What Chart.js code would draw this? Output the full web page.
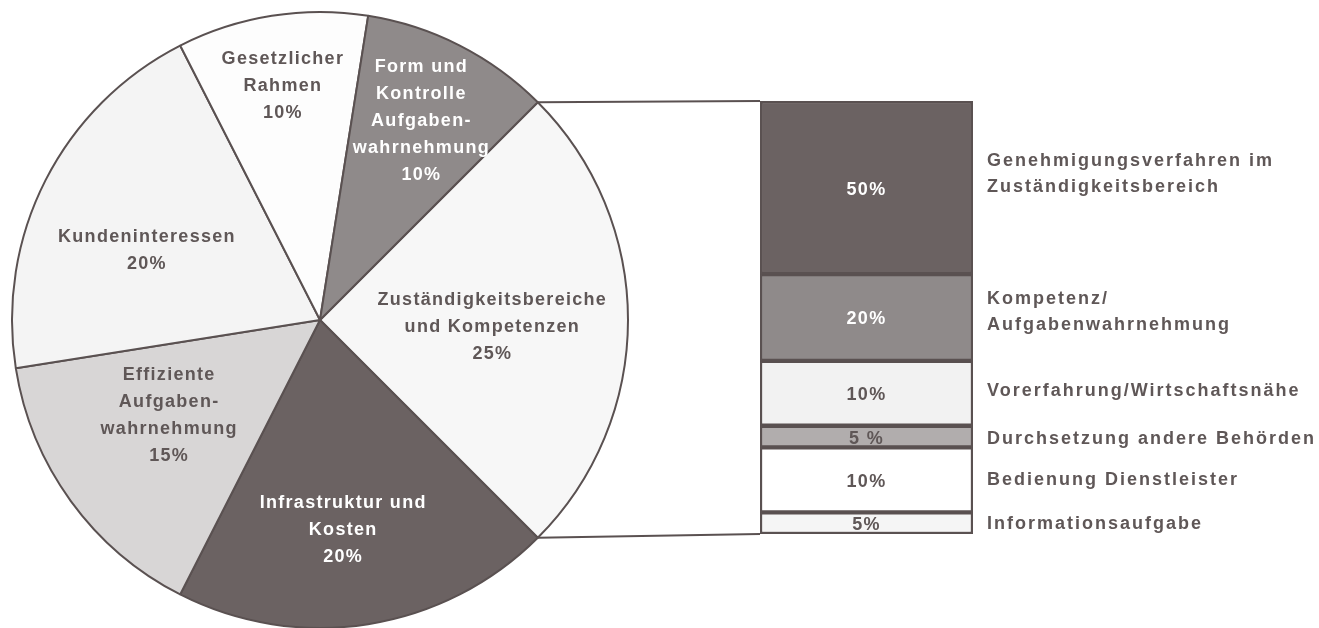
<!DOCTYPE html>
<html>
<head>
<meta charset="utf-8">
<script src="https://cdn.jsdelivr.net/npm/chart.js@4.4.1/dist/chart.umd.min.js"></script>
<style>
  html, body { margin: 0; padding: 0; background: #ffffff; overflow: hidden; }
  #wrap { position: relative; width: 1319px; height: 628px; }
  #pieChart { position: absolute; left: 0; top: 0; }
  #barChart { position: absolute; left: 0; top: 0; pointer-events: none; }
</style>
</head>
<body>
<div id="wrap">
  <canvas id="pieChart" width="640" height="640"></canvas>
  <canvas id="barChart" width="1319" height="628"></canvas>
</div>
<script>
// pie: order starts at the slice that is broken out into the bar
const pieCategories = [
  ["Zuständigkeitsbereiche", "und Kompetenzen"],
  ["Infrastruktur und", "Kosten"],
  ["Effiziente", "Aufgaben-", "wahrnehmung"],
  ["Kundeninteressen"],
  ["Gesetzlicher", "Rahmen"],
  ["Form und", "Kontrolle", "Aufgaben-", "wahrnehmung"]
];
const pieValues = [25, 20, 15, 20, 10, 10];

// bar of pie: drawn heights, printed labels separately
const barCategories = [
  ["Genehmigungsverfahren im", "Zuständigkeitsbereich"],
  ["Kompetenz/", "Aufgabenwahrnehmung"],
  ["Vorerfahrung/Wirtschaftsnähe"],
  ["Durchsetzung andere Behörden"],
  ["Bedienung Dienstleister"],
  ["Informationsaufgabe"]
];
const barValues = [40, 20, 15, 5, 15, 5];
const barValueLabels = ["50%", "20%", "10%", "5 %", "10%", "5%"];

const edge = "#5a5151";
const textGray = "#5f5757";
const pieColors = ["#f7f7f7", "#6b6262", "#d8d6d6", "#f4f4f4", "#fdfdfd", "#8f8a8a"];
const pieTextColors = [textGray, "#ffffff", textGray, textGray, textGray, "#ffffff"];
const barColors = ["#6b6262", "#8f8a8a", "#f2f2f2", "#b1adad", "#ffffff", "#f5f5f5"];
const barTextColors = ["#ffffff", "#ffffff", textGray, textGray, textGray, textGray];
const font = "bold 18px 'Liberation Sans', Arial, sans-serif";

function drawLines(ctx, lines, x, y, lh, align) {
  ctx.textAlign = align;
  ctx.textBaseline = "middle";
  const top = y - (lines.length - 1) * lh / 2;
  lines.forEach((l, i) => ctx.fillText(l, x, top + i * lh));
}

const pieLabels = {
  id: "pieLabels",
  afterDatasetsDraw(chart, args, opts) {
    const ctx = chart.ctx;
    const meta = chart.getDatasetMeta(0);
    ctx.save();
    ctx.font = font;
    ctx.letterSpacing = "1.3px";
    meta.data.forEach((arc, i) => {
      const mid = (arc.startAngle + arc.endAngle) / 2 + opts.turn[i] * Math.PI / 180;
      const d = arc.outerRadius * opts.dist[i];
      const x = arc.x + Math.cos(mid) * d;
      const y = arc.y + Math.sin(mid) * d;
      ctx.fillStyle = pieTextColors[i];
      drawLines(ctx, pieCategories[i].concat([pieValues[i] + "%"]), x, y, 27, "center");
    });
    ctx.restore();
  }
};

const pie = new Chart(document.getElementById("pieChart"), {
  type: "pie",
  data: {
    labels: pieCategories.map((c) => c.join(" ")),
    datasets: [{
      data: pieValues,
      backgroundColor: pieColors,
      borderColor: edge,
      borderWidth: 2
    }]
  },
  options: {
    responsive: false,
    animation: false,
    rotation: 45,
    layout: { padding: { top: 11, bottom: 11 } },
    plugins: {
      legend: { display: false },
      tooltip: { enabled: false },
      pieLabels: {
        dist: [0.56, 0.686, 0.58, 0.606, 0.77, 0.725],
        turn: [2.3, 2.7, 3.6, -5, 0, 0]
      }
    }
  },
  plugins: [pieLabels]
});

const barExtras = {
  id: "barExtras",
  beforeDatasetsDraw(chart) {
    // connector lines from the broken out slice to the bar
    const ctx = chart.ctx;
    const arc = pie.getDatasetMeta(0).data[0];
    const first = chart.getDatasetMeta(0).data[0];
    const last = chart.getDatasetMeta(barValues.length - 1).data[0];
    const left = first.x - first.width / 2;
    const top = Math.min(first.y, first.base);
    const bottom = Math.max(last.y, last.base);
    ctx.save();
    ctx.strokeStyle = edge;
    ctx.lineWidth = 2;
    ctx.beginPath();
    ctx.moveTo(arc.x + Math.cos(arc.startAngle) * arc.outerRadius, arc.y + Math.sin(arc.startAngle) * arc.outerRadius);
    ctx.lineTo(left, top);
    ctx.moveTo(arc.x + Math.cos(arc.endAngle) * arc.outerRadius, arc.y + Math.sin(arc.endAngle) * arc.outerRadius);
    ctx.lineTo(left, bottom);
    ctx.stroke();
    ctx.restore();
  },
  afterDatasetsDraw(chart, args, opts) {
    const ctx = chart.ctx;
    ctx.save();
    ctx.font = font;
    barValues.forEach((v, i) => {
      const bar = chart.getDatasetMeta(i).data[0];
      const cy = (bar.y + bar.base) / 2;
      ctx.letterSpacing = "1.3px";
      ctx.fillStyle = barTextColors[i];
      drawLines(ctx, [barValueLabels[i]], bar.x, cy + 2, 26, "center");
      ctx.letterSpacing = "2px";
      ctx.fillStyle = textGray;
      drawLines(ctx, barCategories[i], bar.x + bar.width / 2 + 14, cy + opts.nudge[i], 26, "left");
    });
    ctx.restore();
  }
};

new Chart(document.getElementById("barChart"), {
  type: "bar",
  data: {
    labels: [""],
    datasets: barValues.map((v, i) => ({
      label: barCategories[i].join(" "),
      data: [v],
      backgroundColor: barColors[i],
      borderColor: edge,
      borderWidth: 2.5,
      borderSkipped: false,
      categoryPercentage: 1,
      barPercentage: 1
    }))
  },
  options: {
    responsive: false,
    animation: false,
    layout: { padding: { left: 760, right: 346, top: 101, bottom: 94 } },
    scales: {
      x: { display: false, stacked: true },
      y: { display: false, stacked: true, min: 0, max: 100, reverse: true }
    },
    plugins: {
      legend: { display: false },
      tooltip: { enabled: false },
      barExtras: { nudge: [-14, -5, -2, 2, 0, 1] }
    }
  },
  plugins: [barExtras]
});
</script>
</body>
</html>
